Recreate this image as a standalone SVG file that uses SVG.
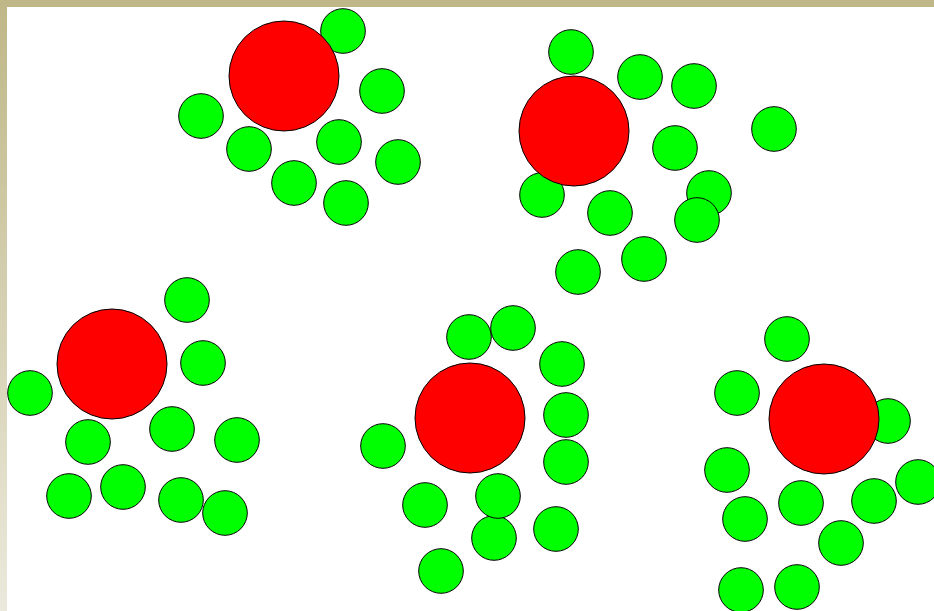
<svg xmlns="http://www.w3.org/2000/svg" width="934" height="611" viewBox="0 0 934 611">
<defs>
<linearGradient id="leftband" x1="0" y1="0" x2="0" y2="1">
<stop offset="0" stop-color="#BFB787"/>
<stop offset="1" stop-color="#EBE9DC"/>
</linearGradient>
<style>
.g{fill:#00FF00;stroke:#000;stroke-width:1}
.r{fill:#FF0000;stroke:#000;stroke-width:1}
</style>
</defs>
<rect width="934" height="611" fill="#fff"/>
<rect x="0" y="0" width="7" height="611" fill="url(#leftband)"/>
<rect x="0" y="0" width="934" height="7" fill="#BFB787"/>
<g id="cluster1">
<circle class="g" cx="343" cy="31" r="22.3"/>
<circle class="r" cx="284" cy="76" r="55"/>
<circle class="g" cx="382" cy="91" r="22.3"/>
<circle class="g" cx="201" cy="116" r="22.3"/>
<circle class="g" cx="249" cy="149" r="22.3"/>
<circle class="g" cx="339" cy="142" r="22.3"/>
<circle class="g" cx="398" cy="162" r="22.3"/>
<circle class="g" cx="294" cy="183" r="22.3"/>
<circle class="g" cx="346" cy="203" r="22.3"/>
</g>
<g id="cluster2">
<circle class="g" cx="542" cy="195" r="22.3"/>
<circle class="r" cx="574" cy="131" r="55"/>
<circle class="g" cx="571" cy="52" r="22.3"/>
<circle class="g" cx="640" cy="77" r="22.3"/>
<circle class="g" cx="694" cy="86" r="22.3"/>
<circle class="g" cx="774" cy="129" r="22.3"/>
<circle class="g" cx="675" cy="148" r="22.3"/>
<circle class="g" cx="610" cy="213" r="22.3"/>
<circle class="g" cx="709" cy="193" r="22.3"/>
<circle class="g" cx="697" cy="220" r="22.3"/>
<circle class="g" cx="644" cy="259" r="22.3"/>
<circle class="g" cx="578" cy="272" r="22.3"/>
</g>
<g id="cluster3">
<circle class="r" cx="112" cy="364" r="55"/>
<circle class="g" cx="187" cy="300" r="22.3"/>
<circle class="g" cx="203" cy="363" r="22.3"/>
<circle class="g" cx="30" cy="393" r="22.3"/>
<circle class="g" cx="88" cy="442" r="22.3"/>
<circle class="g" cx="172" cy="429" r="22.3"/>
<circle class="g" cx="237" cy="440" r="22.3"/>
<circle class="g" cx="69" cy="496" r="22.3"/>
<circle class="g" cx="123" cy="487" r="22.3"/>
<circle class="g" cx="181" cy="500" r="22.3"/>
<circle class="g" cx="225" cy="513" r="22.3"/>
</g>
<g id="cluster4">
<circle class="r" cx="470" cy="418" r="55"/>
<circle class="g" cx="469" cy="337" r="22.3"/>
<circle class="g" cx="513" cy="328" r="22.3"/>
<circle class="g" cx="562" cy="364" r="22.3"/>
<circle class="g" cx="566" cy="415" r="22.3"/>
<circle class="g" cx="566" cy="462" r="22.3"/>
<circle class="g" cx="383" cy="446" r="22.3"/>
<circle class="g" cx="494" cy="538" r="22.3"/>
<circle class="g" cx="498" cy="496" r="22.3"/>
<circle class="g" cx="425" cy="505" r="22.3"/>
<circle class="g" cx="556" cy="529" r="22.3"/>
<circle class="g" cx="441" cy="571" r="22.3"/>
</g>
<g id="cluster5">
<circle class="g" cx="888" cy="421" r="22.3"/>
<circle class="r" cx="824" cy="419" r="55"/>
<circle class="g" cx="787" cy="339" r="22.3"/>
<circle class="g" cx="737" cy="393" r="22.3"/>
<circle class="g" cx="727" cy="470" r="22.3"/>
<circle class="g" cx="745" cy="519" r="22.3"/>
<circle class="g" cx="801" cy="503" r="22.3"/>
<circle class="g" cx="874" cy="501" r="22.3"/>
<circle class="g" cx="918" cy="482" r="22.3"/>
<circle class="g" cx="841" cy="543" r="22.3"/>
<circle class="g" cx="741" cy="590" r="22.3"/>
<circle class="g" cx="797" cy="587" r="22.3"/>
</g>
</svg>
